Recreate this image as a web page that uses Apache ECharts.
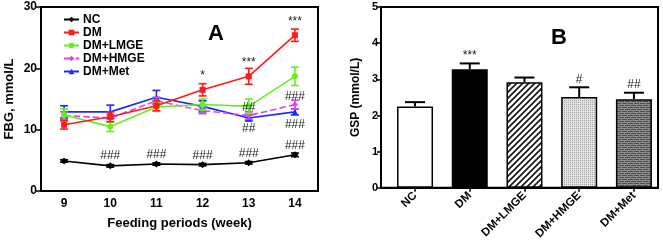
<!DOCTYPE html>
<html><head><meta charset="utf-8">
<script src="https://cdn.jsdelivr.net/npm/echarts@6/dist/echarts.min.js"></script>
<style>html,body{margin:0;padding:0;background:#fff}#c{width:663px;height:242px}</style>
</head><body><div id="c"></div>
<script>
// ---------- Panel A data ----------
const weeks = ['9','10','11','12','13','14'];
const seriesNames = ['NC','DM','DM+LMGE','DM+HMGE','DM+Met'];
const ncVals   = [4.9, 4.1, 4.4, 4.3, 4.6, 5.9];
const ncErr    = [0.2, 0.2, 0.2, 0.2, 0.2, 0.3];
const dmVals   = [10.8, 12.1, 13.9, 16.5, 18.7, 25.4];
const dmErr    = [0.7, 0.8, 0.8, 1.0, 1.3, 1.0];
const lmgeVals = [12.4, 10.5, 13.7, 14.1, 13.8, 18.7];
const lmgeErr  = [1.0, 0.8, 0.7, 0.9, 1.2, 1.5];
const hmgeVals = [12.3, 11.9, 14.7, 13.1, 12.3, 14.1];
const hmgeErr  = [0.6, 0.6, 0.6, 0.5, 0.6, 0.7];
const metVals  = [12.9, 12.9, 15.3, 13.8, 11.9, 12.9];
const metErr   = [1.0, 1.1, 1.1, 0.9, 0.5, 0.5];
const fbgTicks = [0, 10, 20, 30];
// annotations: [week index, y value, text]
const annotA = [
  [3, 18.8, '*'], [4, 21.0, '***'], [5, 27.6, '***'],
  [1, 5.7, '###'], [2, 5.9, '###'], [3, 5.7, '###'], [4, 6.1, '###'], [5, 7.4, '###'],
  [4.28, 13.6, '##'], [4, 10.1, '##'], [5, 15.3, '###'], [5, 10.8, '###']
];
// ---------- Panel B data ----------
const groups = ['NC','DM','DM+LMGE','DM+HMGE','DM+Met'];
const gspVals = [2.25, 3.28, 2.92, 2.51, 2.45];
const gspErr  = [0.12, 0.16, 0.13, 0.27, 0.18];
const gspAnnot = ['', '***', '', '#', '##'];
const gspTicks = [0,1,2,3,4,5];

const FONT = 'Liberation Sans, Arial, sans-serif';
const colors = ['#000000','#ff1a1a','#66ee22','#dd44ee','#1a2aff'];
const symbols = ['diamond','rect','circle','diamond','triangle'];
const allVals = [ncVals, dmVals, lmgeVals, hmgeVals, metVals];
const allErr = [ncErr, dmErr, lmgeErr, hmgeErr, metErr];

function pattern(type){
  const c = document.createElement('canvas');
  const ctx = c.getContext('2d');
  if(type==='stripe'){
    c.width=6;c.height=6;
    ctx.fillStyle='#fff';ctx.fillRect(0,0,6,6);
    ctx.strokeStyle='#111';ctx.lineWidth=1.6;
    ctx.beginPath();ctx.moveTo(-1,7);ctx.lineTo(7,-1);ctx.moveTo(-1,1);ctx.lineTo(1,-1);ctx.moveTo(5,7);ctx.lineTo(7,5);ctx.stroke();
  } else if(type==='dots'){
    c.width=2;c.height=2;
    ctx.fillStyle='#e0e0e0';ctx.fillRect(0,0,2,2);
    ctx.fillStyle='#a8a8a8';ctx.fillRect(0,0,1,1);
  } else {
    c.width=6;c.height=4;
    ctx.fillStyle='#4e4e4e';ctx.fillRect(0,0,6,4);
    ctx.fillStyle='#8c8c8c';ctx.fillRect(0,0,6,1);ctx.fillRect(0,2,6,1);
    ctx.fillRect(0,1,1,1);ctx.fillRect(3,3,1,1);
  }
  return {image:c, repeat:'repeat'};
}
const fills = ['#ffffff','#000000',pattern('stripe'),pattern('dots'),pattern('brick')];

const chart = echarts.init(document.getElementById('c'), null, {renderer:'canvas'});

const lineSeries = seriesNames.map((n,i)=>({
  name:n, type:'line', xAxisIndex:0, yAxisIndex:0,
  data: allVals[i], symbol: symbols[i], symbolSize: i===0?7:6,
  lineStyle:{color:colors[i], width:1.6, type: i===3?'dashed':'solid'},
  itemStyle:{color:colors[i]}, z: 5-i+3, animation:false
}));
const errSeries = seriesNames.map((n,i)=>({
  type:'custom', xAxisIndex:0, yAxisIndex:0, silent:true, animation:false, z: 5-i+3,
  data: allVals[i].map((v,k)=>[k, v-allErr[i][k], v+allErr[i][k]]),
  renderItem:(params, api)=>{
    const lo = api.coord([api.value(0), api.value(1)]);
    const hi = api.coord([api.value(0), api.value(2)]);
    const w = 4;
    const st = {stroke:colors[i], lineWidth:1.6};
    return {type:'group', children:[
      {type:'line', shape:{x1:lo[0],y1:lo[1],x2:hi[0],y2:hi[1]}, style:st},
      {type:'line', shape:{x1:lo[0]-w,y1:lo[1],x2:lo[0]+w,y2:lo[1]}, style:st},
      {type:'line', shape:{x1:hi[0]-w,y1:hi[1],x2:hi[0]+w,y2:hi[1]}, style:st}
    ]};
  }
}));
const annotSeriesA = {
  type:'custom', xAxisIndex:0, yAxisIndex:0, silent:true, animation:false, z:20,
  data: annotA,
  renderItem:(params, api)=>{
    const p = api.coord([api.value(0), api.value(1)]);
    const t = annotA[params.dataIndex][2];
    return {type:'text', x:p[0], y:p[1], style:{text:t, fill:'#222', font:'12px '+FONT, align:'center', verticalAlign:'middle'}};
  }
};

const barSeries = {
  type:'bar', xAxisIndex:1, yAxisIndex:1, barWidth:36, animation:false,
  data: gspVals.map((v,k)=>({value:[k+1, v], itemStyle:{color:fills[k], borderColor:'#000', borderWidth:1.5}})),
  z:3
};
const barErr = {
  type:'custom', xAxisIndex:1, yAxisIndex:1, silent:true, animation:false, z:2,
  data: gspVals.map((v,k)=>[k+1, v, v+gspErr[k]]),
  renderItem:(params, api)=>{
    const lo = api.coord([api.value(0), api.value(1)]);
    const hi = api.coord([api.value(0), api.value(2)]);
    const st = {stroke:'#000', lineWidth:2};
    const t = gspAnnot[params.dataIndex];
    return {type:'group', children:[
      {type:'line', shape:{x1:lo[0],y1:lo[1],x2:hi[0],y2:hi[1]}, style:st},
      {type:'line', shape:{x1:hi[0]-10,y1:hi[1],x2:hi[0]+10,y2:hi[1]}, style:st},
      {type:'text', x:hi[0], y:hi[1]-2, style:{text:t, fill:'#222', font:'12px '+FONT, align:'center', verticalAlign:'bottom'}}
    ]};
  }
};

const option = {
  animation:false,
  textStyle:{fontFamily:FONT},
  grid:[
    {left:41, top:7, width:277, height:184, show:true, borderColor:'#000', borderWidth:2, backgroundColor:'transparent'},
    {left:381, top:7, width:277, height:182, show:true, borderColor:'#000', borderWidth:2, backgroundColor:'transparent'}
  ],
  legend:{
    left:63, top:13, orient:'vertical', itemGap:0, itemWidth:15, itemHeight:7, padding:0,
    data: seriesNames,
    textStyle:{fontFamily:FONT, fontWeight:'bold', fontSize:12, lineHeight:13, color:'#000', padding:[0,0,0,-1]}
  },
  title:[
    {text:'A', left:203, top:18, textStyle:{fontFamily:FONT, fontWeight:'bold', fontSize:22, color:'#000'}},
    {text:'B', left:546, top:22, textStyle:{fontFamily:FONT, fontWeight:'bold', fontSize:22, color:'#000'}}
  ],
  xAxis:[
    {type:'category', gridIndex:0, data:weeks, boundaryGap:true,
     axisLine:{lineStyle:{color:'#000', width:2}},
     axisTick:{alignWithLabel:true, length:4, lineStyle:{color:'#000', width:1.5}},
     axisLabel:{fontFamily:FONT, fontWeight:'bold', fontSize:12, color:'#000', margin:7},
     name:'Feeding periods (week)', nameLocation:'middle', nameGap:26,
     nameTextStyle:{fontFamily:FONT, fontWeight:'bold', fontSize:13, color:'#000'}},
    {type:'value', gridIndex:1, min:0.378, max:5.44, splitLine:{show:false},
     axisLine:{onZero:false, lineStyle:{color:'#000', width:2}},
     axisTick:{customValues:[1,2,3,4,5], length:4, lineStyle:{color:'#000', width:1.5}},
     axisLabel:{customValues:[1,2,3,4,5], formatter:v=>groups[Math.round(v)-1], rotate:45,
       fontFamily:FONT, fontWeight:'bold', fontSize:11.5, color:'#000', margin:6}}
  ],
  yAxis:[
    {type:'value', gridIndex:0, min:0, max:30, interval:10, splitLine:{show:false},
     axisLine:{show:true, lineStyle:{color:'#000', width:2}},
     axisTick:{show:true, length:5, lineStyle:{color:'#000', width:1.5}},
     axisLabel:{fontFamily:FONT, fontWeight:'bold', fontSize:12, color:'#000', margin:4,
       formatter:v=>fbgTicks.includes(v)?String(v):''},
     name:'FBG, mmol/L', nameLocation:'middle', nameGap:25,
     nameTextStyle:{fontFamily:FONT, fontWeight:'bold', fontSize:13, color:'#000'}},
    {type:'value', gridIndex:1, min:0, max:5, interval:1, splitLine:{show:false},
     axisLine:{show:true, lineStyle:{color:'#000', width:2}},
     axisTick:{show:true, length:4, lineStyle:{color:'#000', width:1.5}},
     axisLabel:{fontFamily:FONT, fontWeight:'bold', fontSize:11, color:'#000', margin:3,
       formatter:v=>gspTicks.includes(v)?String(v):''},
     name:'GSP (mmol/L)', nameLocation:'middle', nameGap:19,
     nameTextStyle:{fontFamily:FONT, fontWeight:'bold', fontSize:12, color:'#000'}}
  ],
  series:[...errSeries, ...lineSeries, annotSeriesA, barErr, barSeries]
};
chart.setOption(option);
</script></body></html>
